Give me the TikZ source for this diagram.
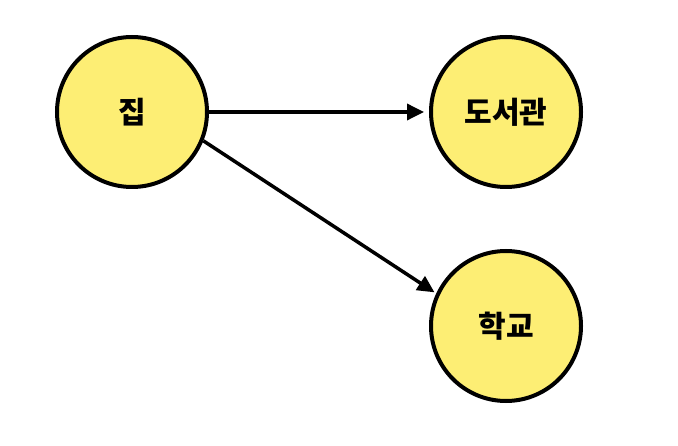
\documentclass[tikz,border=0pt]{standalone}
\usepackage{fontspec}
\newfontfamily\kr{Noto Sans CJK KR}
\usetikzlibrary{arrows.meta}
\definecolor{nodefill}{HTML}{FDEE74}
\begin{document}
\begin{tikzpicture}[x=1bp,y=-1bp,
  place/.style={circle,draw=black,line width=4bp,fill=nodefill,minimum size=150bp,inner sep=0pt,
    font=\kr\bfseries\fontsize{30bp}{34bp}\selectfont},
  link/.style={line width=3.5bp,-{Triangle[length=17bp,width=16bp]}}]
\useasboundingbox (0,0) rectangle (678,446);
\node[place] (home) at (132,112) {집};
\node[place] (lib) at (506,112) {도서관};
\node[place] (school) at (506,326) {학교};
\draw[link,shorten >=5bp] (home.east) -- (lib.west);
\draw[link,shorten >=2bp] (home.-22) -- (school.155);
\end{tikzpicture}
\end{document}
